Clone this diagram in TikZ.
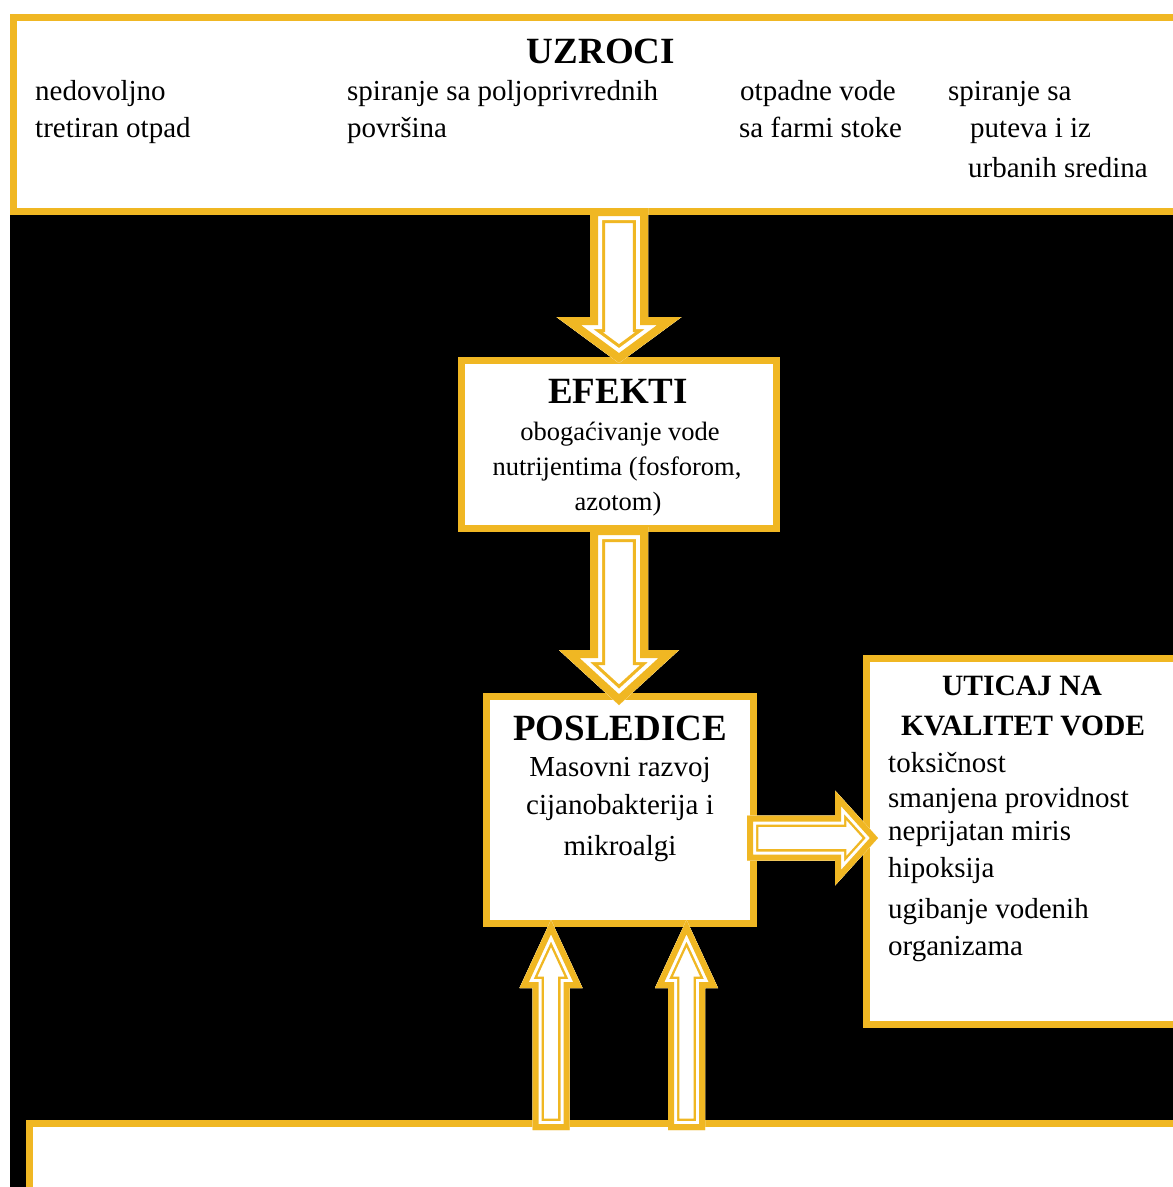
\documentclass[tikz,border=0pt]{standalone}
\usepackage{fontspec}
\setmainfont{Liberation Serif}
\usetikzlibrary{calc}
\definecolor{gold}{RGB}{240,183,35}
\tikzset{
  box/.style={draw=gold, fill=white, line width=7pt, rectangle, inner sep=0pt},
  body/.style={font=\fontsize{29}{36}\selectfont, inner sep=0pt, anchor=base west},
  bodyc/.style={font=\fontsize{29}{36}\selectfont, inner sep=0pt, anchor=base},
  smallc/.style={font=\fontsize{26.5}{33}\selectfont, inner sep=0pt, anchor=base},
  headbig/.style={font=\fontsize{37}{44}\selectfont\bfseries, inner sep=0pt, anchor=base},
  headmid/.style={font=\fontsize{29.5}{36}\selectfont\bfseries, inner sep=0pt, anchor=base},
}
% #1 tail, #2 tip, #3 shaft half width, #4 head half width, #5 head length, #6 band
\newcommand{\blockarrow}[6]{%
  \coordinate (hb) at ($(#2)!#5!(#1)$);
  \def\arpath{($(#1)!#3!90:(#2)$) -- ($(hb)!#3!90:(#2)$) -- ($(hb)!#4!90:(#2)$) -- (#2) -- ($(hb)!#4!-90:(#2)$) -- ($(hb)!#3!-90:(#2)$) -- ($(#1)!#3!-90:(#2)$) -- cycle}%
  \begin{scope}
    \fill[white] \arpath;
    \clip \arpath;
    \draw[gold, line width=3.8*#6pt, line join=miter] \arpath;
    \draw[white, line width=3*#6pt, line join=miter] \arpath;
    \draw[gold, line width=2*#6pt, line join=miter] \arpath;
  \end{scope}}
\begin{document}
\begin{tikzpicture}[x=1pt, y=-1pt]
\useasboundingbox (0,0) rectangle (1173,1187);
\clip (0,0) rectangle (1173,1187);
\fill[white] (0,0) rectangle (1173,1187);
\fill[black] (10,14) rectangle (1173,1187);

% boxes
\node[box, minimum width=1176.5pt, minimum height=194pt] (topbox) at (601.75,114.5) {};
\node[box, minimum width=315pt, minimum height=168pt] (efekti) at (619,444.5) {};
\node[box, minimum width=267pt, minimum height=227pt] (posled) at (620,810) {};
\node[box, minimum width=323.5pt, minimum height=366pt] (uticaj) at (1028.25,841.5) {};
\node[box, minimum width=1160.5pt, minimum height=76.5pt] (bottombox) at (609.75,1161.75) {};

% arrow anchor points
\coordinate (a1s) at ($(efekti.north |- topbox.south)+(0,-7)$);
\coordinate (a1t) at ($(efekti.north)+(0,6)$);
\coordinate (a2s) at ($(efekti.south)+(0,-5)$);
\coordinate (a2t) at ($(efekti.south |- posled.north)+(0,12)$);
\coordinate (a3s) at ($(posled.east)+(-10,28)$);
\coordinate (a3t) at ($(uticaj.west |- a3s)+(15,0)$);
\coordinate (a4s) at ($(posled.south |- bottombox.north)+(-69,10)$);
\coordinate (a4t) at ($(posled.south)+(-69,-7)$);
\coordinate (a5s) at ($(posled.south |- bottombox.north)+(66.5,10)$);
\coordinate (a5t) at ($(posled.south)+(66.5,-7)$);

\blockarrow{a1s}{a1t}{29pt}{62.5pt}{46pt}{8}
\blockarrow{a2s}{a2t}{29pt}{60pt}{55pt}{8}
\blockarrow{a3s}{a3t}{22.5pt}{47.5pt}{43pt}{6}
\blockarrow{a4s}{a4t}{18.5pt}{31.5pt}{68pt}{6}
\blockarrow{a5s}{a5t}{18.5pt}{31.5pt}{68pt}{6}

% top box text
\node[headbig] (tUz) at (601,63) {UZROCI};
\node[body] (t1a) at (35,100) {nedovoljno};
\node[body] (t1b) at (35,137) {tretiran otpad};
\node[body] (t2a) at (347,100) {spiranje sa poljoprivrednih};
\node[body] (t2b) at (347,137) {površina};
\node[body] (t3a) at (740,100) {otpadne vode};
\node[body] (t3b) at (739,137) {sa farmi stoke};
\node[body] (t4a) at (948,100) {spiranje sa};
\node[body] (t4b) at (970,137) {puteva i iz};
\node[body] (t4c) at (968,177) {urbanih sredina};

% efekti text
\node[headbig] (tEf) at (618,403) {EFEKTI};
\node[smallc] (e1) at (620,440) {obogaćivanje vode};
\node[smallc] (e2) at (617,475) {nutrijentima (fosforom,};
\node[smallc] (e3) at (618,510) {azotom)};

% posledice text
\node[headbig] (tPo) at (620,740) {POSLEDICE};
\node[bodyc] (p1) at (620,776) {Masovni razvoj};
\node[bodyc] (p2) at (620,814) {cijanobakterija i};
\node[bodyc] (p3) at (620,855) {mikroalgi};

% uticaj text
\node[headmid] (tU1) at (1022,695) {UTICAJ NA};
\node[headmid] (tU2) at (1023,735) {KVALITET VODE};
\node[body] (u1) at (888,772) {toksičnost};
\node[body] (u2) at (888,807) {smanjena providnost};
\node[body] (u3) at (888,840) {neprijatan miris};
\node[body] (u4) at (888,877) {hipoksija};
\node[body] (u5) at (888,918) {ugibanje vodenih};
\node[body] (u6) at (888,955) {organizama};
\end{tikzpicture}
\end{document}
